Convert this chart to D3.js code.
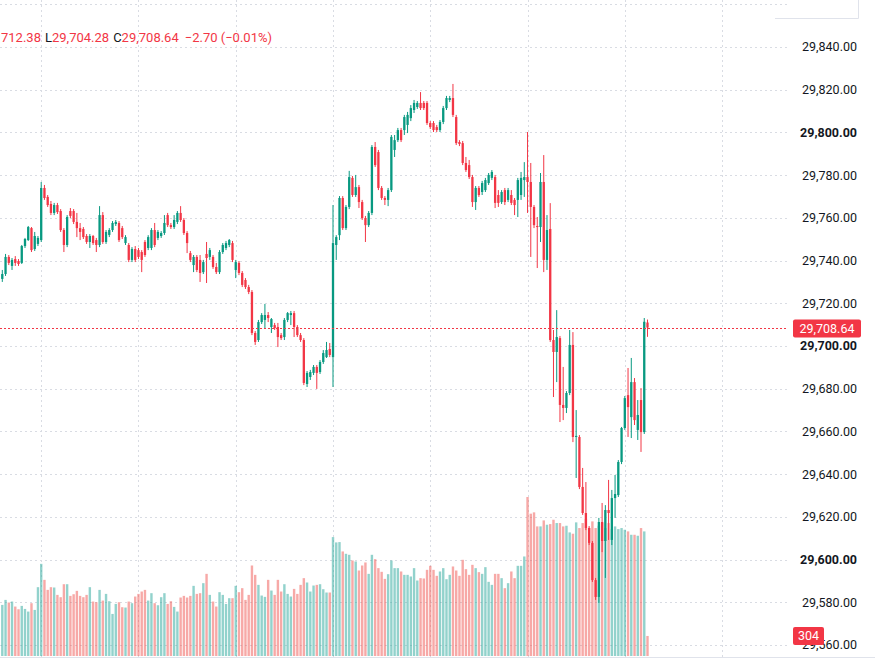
<!DOCTYPE html>
<html><head><meta charset="utf-8">
<script src="https://cdn.jsdelivr.net/npm/d3@7"></script>
<style>body{margin:0;background:#fff;overflow:hidden}svg{display:block}</style>
</head><body>
<svg id="c" width="875" height="666"></svg>
<script>
const openP=[29731.4,29733.7,29741.7,29737.5,29740.7,29739.8,29738.9,29746.8,29749.6,29755.2,29745.4,29747.8,29749.6,29774.0,29769.8,29766.5,29762.3,29766.0,29763.2,29754.3,29747.3,29763.2,29763.2,29758.1,29755.2,29754.8,29751.5,29748.7,29751.5,29749.6,29747.3,29761.3,29748.7,29752.0,29754.3,29757.1,29757.6,29755.2,29748.2,29747.3,29740.3,29745.4,29744.9,29744.0,29748.7,29745.9,29745.9,29754.3,29750.6,29751.5,29752.9,29761.3,29756.6,29755.7,29758.1,29762.3,29759.0,29752.9,29743.5,29737.9,29741.7,29740.3,29734.6,29743.1,29741.7,29741.7,29737.0,29734.6,29744.0,29745.9,29747.3,29748.2,29735.6,29738.9,29734.2,29730.9,29727.6,29725.3,29706.1,29702.8,29711.2,29712.2,29714.5,29708.9,29709.8,29708.9,29705.1,29704.2,29712.2,29714.5,29715.4,29708.9,29705.1,29702.8,29682.2,29685.5,29687.4,29690.2,29687.8,29692.5,29694.8,29698.6,29694.8,29747.3,29751.9,29769.3,29755.2,29765.1,29778.7,29770.7,29774.4,29767.4,29759.9,29756.6,29762.3,29793.2,29790.8,29774.0,29769.3,29768.4,29773.0,29791.8,29796.4,29801.1,29801.1,29803.5,29806.7,29810.5,29811.9,29813.8,29813.8,29813.8,29804.4,29804.4,29802.5,29801.1,29804.9,29811.4,29815.2,29816.1,29807.2,29795.5,29795.0,29785.7,29784.7,29779.1,29767.4,29774.0,29772.1,29773.0,29776.3,29778.7,29779.1,29770.7,29767.4,29773.0,29768.4,29770.7,29768.4,29768.4,29770.7,29777.7,29779.1,29776.8,29765.1,29756.2,29755.7,29776.8,29740.3,29754.8,29702.8,29697.2,29703.7,29672.4,29671.0,29678.0,29700.5,29657.4,29657.4,29634.0,29621.8,29614.8,29607.8,29590.4,29582.5,29617.6,29608.7,29623.2,29609.2,29628.8,29630.2,29645.7,29661.6,29677.0,29666.7,29683.1,29660.7,29674.7,29659.7,29711.0];
const highP=[29735.6,29743.1,29742.6,29741.2,29742.1,29740.7,29747.3,29750.6,29756.2,29755.7,29753.4,29751.5,29776.8,29775.4,29770.7,29767.9,29767.0,29767.0,29764.1,29755.2,29761.3,29764.6,29764.1,29762.3,29757.6,29755.7,29752.4,29752.4,29752.0,29750.6,29765.5,29762.7,29754.3,29755.2,29758.5,29759.0,29758.5,29756.2,29751.9,29748.2,29746.3,29746.8,29745.9,29744.9,29749.6,29751.9,29755.2,29757.6,29754.3,29753.8,29761.3,29762.3,29757.6,29761.3,29763.2,29765.5,29759.9,29753.8,29744.5,29742.6,29742.6,29742.6,29740.3,29748.7,29745.9,29742.6,29738.9,29744.9,29748.2,29749.2,29750.1,29749.2,29740.3,29739.8,29735.1,29731.8,29728.6,29726.2,29707.0,29712.2,29715.4,29719.7,29715.9,29713.1,29710.8,29710.8,29706.1,29713.1,29715.9,29716.4,29716.4,29709.8,29706.1,29703.7,29688.3,29688.8,29691.1,29691.1,29693.4,29698.1,29701.9,29701.4,29766.0,29751.9,29770.2,29770.2,29766.0,29782.0,29779.6,29780.1,29775.4,29768.4,29760.9,29763.2,29794.1,29795.5,29791.8,29774.9,29770.2,29774.0,29798.8,29798.8,29802.1,29802.1,29808.2,29809.6,29812.8,29815.2,29814.7,29818.9,29814.7,29814.7,29805.3,29805.3,29803.5,29805.8,29812.4,29817.1,29817.1,29822.7,29808.2,29796.4,29796.0,29788.5,29787.1,29780.1,29774.9,29774.9,29777.3,29778.7,29781.0,29782.4,29780.1,29773.0,29773.0,29774.0,29774.0,29773.0,29769.3,29778.7,29781.5,29786.1,29800.2,29785.7,29766.0,29760.4,29781.0,29789.4,29761.3,29766.9,29707.5,29716.8,29704.7,29690.2,29678.9,29707.5,29706.5,29670.0,29658.3,29642.9,29636.3,29615.7,29608.7,29591.4,29619.5,29626.5,29625.5,29637.3,29632.6,29639.6,29646.6,29662.1,29676.6,29689.7,29694.4,29685.0,29674.7,29680.3,29713.1,29712.38];
const lowP=[29730.0,29732.8,29737.9,29735.6,29737.5,29737.5,29738.4,29745.9,29749.2,29744.0,29744.5,29746.8,29748.7,29768.4,29765.1,29761.3,29761.3,29761.8,29753.4,29744.0,29746.3,29759.9,29757.1,29751.0,29749.6,29750.1,29747.8,29745.9,29747.3,29744.0,29746.3,29747.8,29747.8,29751.0,29753.4,29756.2,29748.7,29750.1,29747.3,29739.3,29739.3,29739.3,29740.7,29734.6,29741.7,29744.9,29744.9,29746.3,29749.6,29750.6,29752.0,29755.7,29754.8,29754.8,29757.1,29758.1,29752.0,29743.5,29739.3,29734.6,29734.6,29730.0,29733.7,29729.5,29740.3,29736.1,29733.7,29733.7,29743.1,29744.9,29746.3,29739.3,29731.8,29733.2,29727.6,29726.7,29724.3,29705.1,29700.5,29701.9,29710.3,29708.4,29711.2,29706.1,29707.5,29699.5,29702.8,29702.8,29711.2,29709.8,29704.2,29704.2,29701.9,29681.7,29680.8,29684.1,29686.4,29679.9,29686.9,29691.6,29694.4,29694.8,29680.8,29740.3,29749.6,29754.3,29754.3,29764.1,29769.8,29769.8,29764.6,29759.0,29748.7,29755.7,29761.3,29783.8,29773.0,29768.4,29766.0,29765.5,29772.1,29788.5,29795.5,29795.5,29798.8,29799.7,29805.3,29809.1,29811.0,29810.5,29810.5,29803.5,29801.6,29800.2,29800.2,29800.2,29803.9,29810.5,29814.2,29807.2,29794.1,29793.6,29784.7,29781.5,29778.2,29765.1,29763.7,29769.8,29770.7,29772.1,29775.4,29777.7,29764.6,29765.1,29766.5,29766.0,29767.4,29766.0,29761.3,29760.4,29768.4,29769.8,29762.3,29741.7,29755.2,29736.5,29748.7,29734.6,29735.6,29701.9,29676.1,29683.1,29664.4,29665.3,29668.6,29677.0,29655.0,29638.2,29633.0,29620.9,29613.8,29606.8,29589.5,29581.1,29579.7,29603.5,29591.4,29609.2,29606.8,29619.5,29629.3,29644.7,29660.7,29657.4,29656.9,29663.0,29656.0,29650.4,29658.8,29704.28];
const closeP=[29733.7,29741.7,29738.9,29740.3,29738.9,29738.4,29746.8,29750.1,29755.7,29744.9,29751.5,29750.6,29774.0,29769.3,29766.0,29762.3,29766.0,29762.7,29754.3,29747.3,29760.4,29760.9,29758.1,29755.2,29753.4,29751.0,29748.7,29751.5,29748.2,29747.3,29761.3,29748.7,29753.4,29754.3,29757.6,29758.1,29749.6,29751.0,29751.0,29740.3,29745.4,29740.3,29741.7,29740.3,29742.6,29751.0,29754.3,29747.3,29753.4,29752.9,29757.6,29756.6,29755.7,29759.0,29762.3,29759.0,29752.9,29748.2,29740.3,29741.7,29735.6,29734.2,29739.3,29741.2,29744.9,29737.0,29734.6,29744.0,29747.3,29748.2,29749.6,29740.3,29739.3,29734.2,29728.6,29727.6,29725.3,29706.1,29701.9,29711.2,29714.5,29714.5,29713.1,29712.6,29708.4,29704.2,29703.7,29712.2,29715.4,29715.4,29708.9,29705.1,29702.8,29682.7,29687.4,29687.8,29690.2,29687.4,29692.5,29696.7,29698.1,29695.8,29748.2,29751.0,29769.3,29755.2,29765.1,29779.1,29770.7,29774.4,29767.4,29759.9,29756.6,29762.3,29793.2,29784.7,29774.0,29769.3,29768.4,29773.0,29797.9,29796.4,29801.1,29796.4,29807.2,29808.2,29811.4,29813.8,29813.8,29811.4,29811.4,29804.4,29802.5,29801.1,29801.1,29804.9,29811.4,29816.1,29816.1,29808.2,29795.0,29794.6,29785.7,29782.4,29779.1,29767.4,29774.0,29770.7,29776.3,29777.7,29780.1,29781.5,29767.0,29767.0,29772.1,29767.4,29773.0,29767.0,29766.0,29777.7,29778.7,29779.1,29776.8,29765.1,29756.6,29755.7,29776.8,29740.3,29754.3,29702.8,29697.2,29704.2,29672.4,29671.0,29678.0,29700.5,29657.4,29657.9,29634.0,29621.8,29614.8,29607.8,29590.4,29582.5,29617.6,29608.7,29623.2,29621.8,29628.8,29630.7,29645.7,29661.6,29675.6,29671.4,29683.1,29665.3,29667.7,29659.7,29711.34,29708.64];
const volumes=[775,851,811,826,750,709,760,714,674,801,699,1044,1398,1155,1003,1044,1039,927,892,1089,1089,912,937,988,912,892,927,1044,826,816,1003,841,942,831,638,790,816,740,735,826,801,902,942,978,1003,841,953,801,770,892,953,790,831,745,674,887,912,887,912,1064,942,953,1105,1246,927,826,750,968,927,790,877,877,1064,968,1029,851,927,1373,1231,1079,917,897,1155,993,927,1155,978,1089,942,902,1018,942,1079,1181,1115,978,1069,1079,1089,1013,963,963,1804,1723,1728,1586,1550,1535,1449,1434,1297,1373,1419,1246,1535,1469,1333,1277,1170,1241,1449,1333,1333,1282,1231,1231,1206,1333,1145,1181,1176,1307,1368,1307,1216,1282,1333,1165,1231,1358,1297,1216,1459,1317,1231,1383,1333,1272,1246,1348,1125,1079,1246,1246,1181,1029,1105,1282,1181,1368,1368,1510,2412,2159,2179,1966,1966,2057,1991,2001,2067,2017,2017,1966,1976,1875,1855,2027,1941,2017,2077,1941,2042,1941,1976,2017,1941,2017,1925,1966,1925,1941,1915,1890,1839,1839,1824,1941,1890,304];
const priceTicks=[29560,29580,29600,29620,29640,29660,29680,29700,29720,29740,29760,29780,29800,29820,29840];
const timeGridBars=[12,42,72,102,132,162,192,222];

const UP="#089981", DOWN="#F23645", TEXT="#131722";
const VUP="rgba(38,166,154,0.5)", VDOWN="rgba(239,83,80,0.5)";
const N=closeP.length;
const W=875, plotR=788, plotB=657;
const svg=d3.select("#c");
const font="Roboto, 'Liberation Sans', sans-serif";

const x=d3.scaleLinear().domain([0,N-1]).range([2.3,647.5]);
const y=d3.scaleLinear().domain([29560,29840]).range([645,47]);
const vy=d3.scaleLinear().domain([0,d3.max(volumes)]).range([656,497]);

svg.append("defs").append("clipPath").attr("id","pc").append("rect").attr("x",0).attr("y",0).attr("width",plotR).attr("height",plotB);
const g=svg.append("g").attr("clip-path","url(#pc)");

// grid
g.selectAll("line.hg").data(priceTicks.concat([29860])).join("line")
 .attr("x1",0).attr("x2",plotR).attr("y1",d=>Math.round(y(d))+0.5).attr("y2",d=>Math.round(y(d))+0.5)
 .attr("stroke","#d9dce3").attr("stroke-dasharray","2,3");
g.selectAll("line.vg").data(timeGridBars).join("line")
 .attr("x1",d=>Math.round(x(d))+0.5).attr("x2",d=>Math.round(x(d))+0.5).attr("y1",0).attr("y2",plotB)
 .attr("stroke","#d9dce3").attr("stroke-dasharray","2,3");

const idx=d3.range(N);
const isUp=i=>closeP[i]>=openP[i];

// volume
const bw=2.4;
g.selectAll("rect.v").data(idx).join("rect")
 .attr("x",i=>x(i)-bw/2).attr("width",bw)
 .attr("y",i=>vy(volumes[i])).attr("height",i=>vy(0)-vy(volumes[i]))
 .attr("fill",i=>isUp(i)?VUP:VDOWN);

// wicks
g.selectAll("line.w").data(idx).join("line")
 .attr("x1",i=>x(i)).attr("x2",i=>x(i))
 .attr("y1",i=>y(highP[i])).attr("y2",i=>y(lowP[i]))
 .attr("stroke",i=>isUp(i)?UP:DOWN).attr("stroke-width",1);
// bodies
const cw=2.3;
g.selectAll("rect.b").data(idx).join("rect")
 .attr("x",i=>x(i)-cw/2).attr("width",cw)
 .attr("y",i=>y(Math.max(openP[i],closeP[i])))
 .attr("height",i=>Math.max(1,Math.abs(y(openP[i])-y(closeP[i]))))
 .attr("fill",i=>isUp(i)?UP:DOWN);

// last price line
const last=closeP[N-1];
const ly=Math.round(y(last))+0.5;
g.append("line").attr("x1",0).attr("x2",plotR)
 .attr("y1",ly).attr("y2",ly)
 .attr("stroke",DOWN).attr("stroke-dasharray","1.5,2.5").attr("stroke-width",1)
 .attr("shape-rendering","crispEdges");

// top-right frame fragment
svg.append("path").attr("d","M775,18.5H858.5V0").attr("fill","none").attr("stroke","#e0e3eb");

// bottom time-axis border
svg.append("line").attr("x1",0).attr("x2",W).attr("y1",plotB+0.5).attr("y2",plotB+0.5).attr("stroke","#e0e3eb");

// price axis
const fmt=d3.format(",.2f");
svg.selectAll("text.pt").data(priceTicks).join("text")
 .attr("x",857).attr("y",d=>y(d)).attr("dy","0.35em")
 .attr("text-anchor","end").attr("font-family",font).attr("font-size",12.5)
 .attr("font-weight",d=>d%100===0?"bold":"normal")
 .attr("fill",TEXT).text(d=>fmt(d));

// last price label
const lp=svg.append("g");
lp.append("rect").attr("x",793).attr("y",ly-9).attr("width",68).attr("height",18).attr("rx",2).attr("fill",DOWN);
lp.append("text").attr("x",827).attr("y",ly).attr("dy","0.35em").attr("text-anchor","middle")
 .attr("font-family",font).attr("font-size",12.5).attr("fill","#fff").text(fmt(last));

// volume label
const lv=volumes[N-1];
svg.append("rect").attr("x",793).attr("y",vy(lv)-9).attr("width",31).attr("height",18).attr("rx",2).attr("fill",isUp(N-1)?UP:DOWN);
svg.append("text").attr("x",808.5).attr("y",vy(lv)).attr("dy","0.35em").attr("text-anchor","middle")
 .attr("font-family",font).attr("font-size",12.5).attr("fill","#fff").text(lv);

// header legend (partially cut on the left)
const chg=last-closeP[N-2];
const pct=chg/closeP[N-2]*100;
const signed=v=>(v<0?"\u2212":"+")+Math.abs(v).toFixed(2);
const hdr=svg.append("text").attr("x",1).attr("y",42).attr("font-family",font).attr("font-size",13);
hdr.append("tspan").attr("fill",DOWN).text(fmt(highP[N-1]).slice(3));
hdr.append("tspan").attr("fill",TEXT).attr("dx",4).text("L");
hdr.append("tspan").attr("fill",DOWN).text(fmt(lowP[N-1]));
hdr.append("tspan").attr("fill",TEXT).attr("dx",4).text("C");
hdr.append("tspan").attr("fill",DOWN).text(fmt(last));
hdr.append("tspan").attr("fill",DOWN).attr("dx",6).text(signed(chg)+" ("+signed(pct)+"%)");
</script>
</body></html>
